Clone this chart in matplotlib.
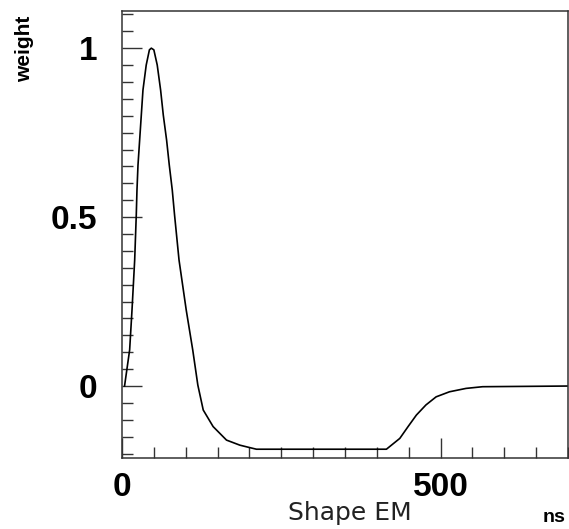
import numpy as np
import matplotlib
matplotlib.use("Agg")
import matplotlib.pyplot as plt
from matplotlib.ticker import MultipleLocator

# pulse shape (time in ns, weight)
time_ns = [4, 12, 15.7, 19.9, 22.4, 23.5, 25.1, 27.7, 30.3, 32.9, 38, 43, 46,
           50, 55.3, 60.6, 64.8, 70, 74.2, 78.9, 82.5, 89.5, 100.8, 111, 119,
           127.5, 143, 164, 185, 200, 211, 415, 436, 449, 462, 477, 493, 514,
           540, 566, 700]
weight = [0.0, 0.107, 0.225, 0.373, 0.506, 0.58, 0.654, 0.728, 0.802, 0.876,
          0.95, 0.995, 1.0, 0.995, 0.95, 0.876, 0.802, 0.728, 0.654, 0.58,
          0.506, 0.373, 0.225, 0.107, 0.003, -0.071, -0.12, -0.16, -0.175,
          -0.182, -0.187, -0.187, -0.155, -0.12, -0.086, -0.056, -0.032,
          -0.017, -0.007, -0.002, 0.0]

xticks = [0, 500]
yticks = [0, 0.5, 1]
ytick_labels = ["0", "0.5", "1"]

fig = plt.figure(figsize=(5.69, 5.29), dpi=100)
ax = fig.add_axes([122 / 569, 1 - 458 / 529, 446 / 569, 447 / 529])

ax.plot(time_ns, weight, color="black", lw=1.2)

ax.set_xlim(0, 700)
ax.set_ylim(-0.213, 1.11)

ax.set_xticks(xticks)
ax.set_xticklabels([str(v) for v in xticks])
ax.set_yticks(yticks)
ax.set_yticklabels(ytick_labels)
ax.xaxis.set_minor_locator(MultipleLocator(50))
ax.yaxis.set_minor_locator(MultipleLocator(0.05))

for sp in ax.spines.values():
    sp.set_color("#333333")
    sp.set_linewidth(1.1)

ax.tick_params(axis="both", which="both", direction="in", color="#333333",
               top=False, right=False)
ax.tick_params(axis="both", which="major", length=14.5, width=1.0)
ax.tick_params(axis="both", which="minor", length=8, width=1.0)
ax.tick_params(axis="x", which="major", pad=10)
ax.tick_params(axis="y", which="major", pad=18)

for lab in ax.get_xticklabels() + ax.get_yticklabels():
    lab.set_fontfamily("Liberation Sans")
    lab.set_fontweight("bold")
    lab.set_fontsize(24)

fig.text(25 / 569, 1 - 49 / 529, "weight", rotation=90, ha="center", va="center",
         family="Liberation Sans", fontweight="bold", fontsize=15)
fig.text(350 / 569, 1 - 513 / 529, "Shape EM", ha="center", va="center",
         family="DejaVu Sans", fontsize=18, color="#222222")
fig.text(554 / 569, 1 - 517 / 529, "ns", ha="center", va="center",
         family="Liberation Sans", fontweight="bold", fontsize=14)

fig.savefig("out.png", dpi=100)
